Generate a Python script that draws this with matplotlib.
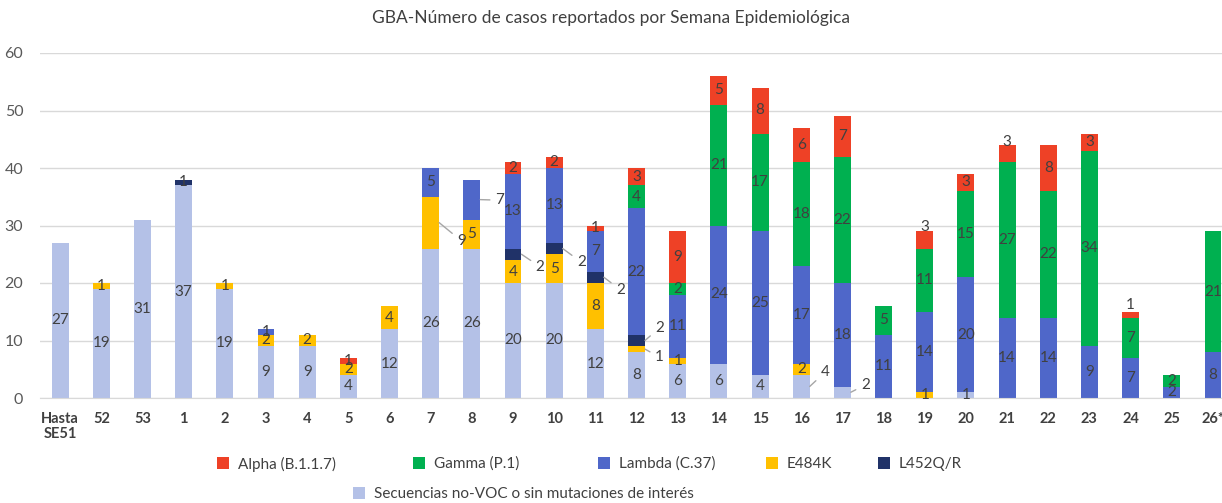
import matplotlib.pyplot as plt
import numpy as np

plt.rcParams['font.family'] = ['Lato', 'DejaVu Sans']

weeks = ["Hasta\nSE51", "52", "53", "1", "2", "3", "4", "5", "6", "7", "8", "9", "10",
         "11", "12", "13", "14", "15", "16", "17", "18", "19", "20", "21", "22", "23",
         "24", "25", "26*"]
no_voc = [27, 19, 31, 37, 19, 9, 9, 4, 12, 26, 26, 20, 20, 12, 8, 6, 6, 4, 4, 2, 0, 0, 1, 0, 0, 0, 0, 0, 0]
e484k = [0, 1, 0, 0, 1, 2, 2, 2, 4, 9, 5, 4, 5, 8, 1, 1, 0, 0, 2, 0, 0, 1, 0, 0, 0, 0, 0, 0, 0]
l452qr = [0, 0, 0, 1, 0, 0, 0, 0, 0, 0, 0, 2, 2, 2, 2, 0, 0, 0, 0, 0, 0, 0, 0, 0, 0, 0, 0, 0, 0]
lambda_c37 = [0, 0, 0, 0, 0, 1, 0, 0, 0, 5, 7, 13, 13, 7, 22, 11, 24, 25, 17, 18, 11, 14, 20, 14, 14, 9, 7, 2, 8]
gamma_p1 = [0, 0, 0, 0, 0, 0, 0, 0, 0, 0, 0, 0, 0, 0, 4, 2, 21, 17, 18, 22, 5, 11, 15, 27, 22, 34, 7, 2, 21]
alpha_b117 = [0, 0, 0, 0, 0, 0, 0, 1, 0, 0, 0, 2, 2, 1, 3, 9, 5, 8, 6, 7, 0, 3, 3, 3, 8, 3, 1, 0, 0]

series = [
    ("Secuencias no-VOC o sin mutaciones de interés", no_voc, "#B4C1E7"),
    ("E484K", e484k, "#FFC000"),
    ("L452Q/R", l452qr, "#203268"),
    ("Lambda (C.37)", lambda_c37, "#4F67C9"),
    ("Gamma (P.1)", gamma_p1, "#00B050"),
    ("Alpha (B.1.1.7)", alpha_b117, "#EE4126"),
]

# labels drawn outside the bar with a leader line: (bar, series) -> (dx, y)
leader = {
    (9, 1): (0.75, 27.3), (10, 3): (0.68, 34.4), (11, 2): (0.66, 22.8),
    (12, 2): (0.66, 23.6), (13, 2): (0.61, 18.8), (14, 2): (0.56, 12.2),
    (14, 1): (0.56, 7.1), (18, 0): (0.58, 4.5), (19, 0): (0.56, 2.3),
}
# labels placed just above the bar top
above = {(21, 5): 29.7, (23, 5): 44.6, (26, 5): 16.2}

fig = plt.figure(figsize=(12.22, 5.03), dpi=100)
ax = fig.add_axes([40 / 1222, 105 / 503, 1 - 40 / 1222, 345 / 503])

x = np.arange(len(weeks))
w = 0.41
lab_fs = 11
bottom = np.zeros(len(weeks))
handles = {}
for si, (name, vals, col) in enumerate(series):
    vals = np.array(vals, dtype=float)
    bars = ax.bar(x, vals, w, bottom=bottom, color=col, edgecolor='none', zorder=2)
    handles[name] = bars
    for i, v in enumerate(vals):
        if v == 0:
            continue
        mid = bottom[i] + v / 2
        if (i, si) in leader:
            dx, ly = leader[(i, si)]
            ax.annotate(str(int(v)), xy=(i + w / 2, mid), xytext=(i + dx, ly),
                        ha='center', va='center', fontsize=lab_fs, color='#404040',
                        arrowprops=dict(arrowstyle='-', color='#A6A6A6', lw=1,
                                        shrinkA=2, shrinkB=0), zorder=3)
        elif (i, si) in above:
            ax.text(i, above[(i, si)], str(int(v)), ha='center', va='center',
                    fontsize=lab_fs, color='#404040', zorder=3)
        else:
            ax.text(i, mid, str(int(v)), ha='center', va='center',
                    fontsize=lab_fs, color='#404040', zorder=3)
    bottom += vals

ax.set_ylim(0, 60)
ax.set_yticks(range(0, 61, 10))
ax.set_xlim(-0.49, 28.22)
ax.set_xticks(x)
ax.set_xticklabels(weeks, fontweight='bold', fontsize=10.5, color='#404040', linespacing=1.1)
ax.tick_params(axis='x', length=0, pad=10)
ax.tick_params(axis='y', length=0, labelsize=11.5, labelcolor='#595959', pad=12)
ax.grid(axis='y', color='#D9D9D9', lw=1, zorder=0)
for s in ['top', 'right', 'left']:
    ax.spines[s].set_visible(False)
ax.spines['bottom'].set_color('#D9D9D9')

fig.text(0.5, 1 - 18 / 503, "GBA-Número de casos reportados por Semana Epidemiológica",
         ha='center', va='center', fontsize=12.5, color='#404040')

# legend entries placed like the original
legend_pos = [
    ("Alpha (B.1.1.7)", 217, 464), ("Gamma (P.1)", 413, 464), ("Lambda (C.37)", 598, 464),
    ("E484K", 766, 464), ("L452Q/R", 878, 464),
    ("Secuencias no-VOC o sin mutaciones de interés", 353, 494),
]
for name, px, py in legend_pos:
    fig.legend(handles=[handles[name]], labels=[name], loc='center left',
               bbox_to_anchor=(px / 1222, 1 - py / 503), frameon=False,
               fontsize=11, handlelength=0.8, handleheight=0.8, handletextpad=0.55,
               borderpad=0, borderaxespad=0, labelcolor='#404040')

fig.savefig("out.png", dpi=100)
